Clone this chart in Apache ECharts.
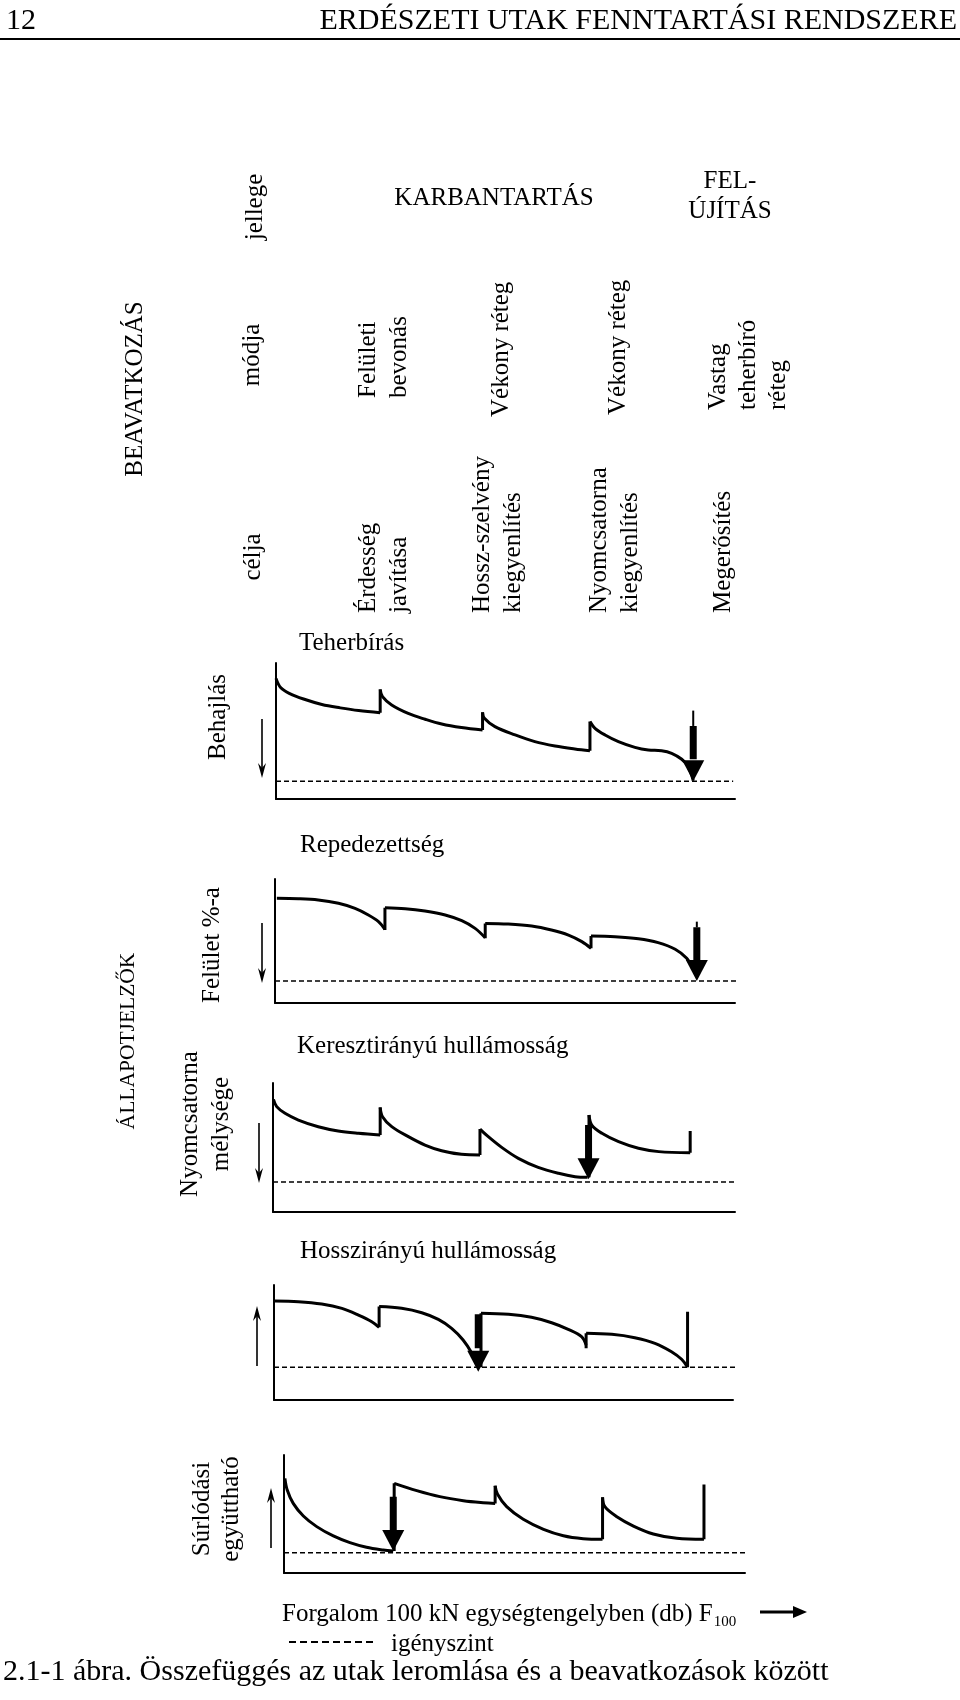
<!DOCTYPE html>
<html><head><meta charset="utf-8">
<script src="https://cdn.jsdelivr.net/npm/echarts@6.0.0/dist/echarts.min.js"></script>
<style>html,body{margin:0;padding:0;background:#fff}#main{width:960px;height:1700px}</style>
</head><body><div id="main"></div>
<script>
// ---------- DATA (x: forgalom 0..100, y: állapot 0..100) ----------
// 1. Teherbírás – Behajlás
const teherbirasSegments = [
  [[0,88.7],[1,82],[3,77.5],[6,73.5],[10,69.5],[14,67],[18,65],[22.7,63.5]],
  [[22.7,80.6],[23.2,75.2],[25.2,69.1],[28.8,62.9],[32.5,58.6],[36.1,55.1],[40.4,52.5],[45.0,50.7]],
  [[45.0,63.7],[45.4,59.3],[47.7,53.2],[52.1,47.1],[56.4,42.2],[60.8,39.0],[65.1,36.8],[68.4,35.5]],
  [[68.4,56.9],[69.5,52.0],[71.7,47.1],[74.6,42.2],[78.2,38.0],[81.1,36.0],[84.0,35.5],[86.2,33.6],[88.4,29.2],[89.8,23.8],[90.9,13.5]]
];
const teherbirasJumps = [[22.7,63.5,80.6],[45.0,50.7,63.7],[68.4,35.5,56.9]];
const teherbirasLevel = 13;
const teherbirasArrow = [90.9, 65, 53.7, 29.2, 13];   // x, tail top, shaft top, head base, tip

// 2. Repedezettség – Felület %-a
const repedezettsegSegments = [
  [[0.4,84.4],[5.1,84.1],[9.4,83.1],[13.8,80.4],[17.4,76.3],[20.3,71.0],[22.5,65.6],[23.9,59.4]],
  [[23.9,76.9],[28.3,76.1],[32.6,74.2],[37.0,71.0],[40.6,66.4],[43.5,60.2],[45.7,52.6]],
  [[45.7,64.2],[50.7,63.7],[55.8,62.1],[60.1,58.9],[63.8,54.8],[66.7,49.5],[68.7,44.1]],
  [[68.7,54.0],[73.9,53.5],[79.0,51.9],[83.3,48.7],[87.0,43.3],[89.5,36.0],[91.0,26.6]]
];
const repedezettsegJumps = [[23.9,58.9,76.9],[45.7,52.2,64.2],[68.7,44.1,54.0]];
const repedezettsegLevel = 17.7;
const repedezettsegArrow = [91.7, 65.6, 61.0, 34.7, 17.7];

// 3. Keresztirányú hullámosság – Nyomcsatorna mélysége
const keresztSegments = [
  [[0.1,87.3],[0.8,81.7],[2.6,76.5],[5.5,71.3],[9.8,66.1],[14.1,62.8],[18.5,61.0],[23.2,59.7]],
  [[23.2,81.1],[23.7,73.9],[25.7,66.2],[29.3,58.4],[32.9,51.9],[36.5,47.5],[40.8,44.7],[44.8,44.2]],
  [[44.8,64.3],[46.6,58.4],[49.5,50.1],[53.1,41.6],[57.4,34.6],[61.8,30.0],[65.4,27.4],[68.1,26.9]],
  [[68.4,75.2],[69.0,67.4],[71.2,61.0],[74.8,54.5],[79.1,49.4],[83.5,46.8],[90.3,46.0]]
];
const keresztJumps = [[23.2,59.7,81.1],[44.8,44.2,64.3],[68.4,26.9,75.2],[90.3,46.0,62.8]];
const keresztLevel = 23.3;
const keresztArrow = [68.3, 67.4, 67.4, 40.8, 25.3];

// 4. Hosszirányú hullámosság
const hosszSegments = [
  [[0.2,86.1],[5.3,85.5],[10.4,83.5],[14.8,79.7],[18.4,73.9],[21.3,68.1],[22.9,63.2]],
  [[22.9,81.2],[27.8,79.7],[32.2,75.9],[35.8,70.1],[38.7,62.3],[41.2,52.2],[43.1,40.6],[44.4,28.4]],
  [[45.1,75.4],[51.1,74.5],[56.1,71.9],[60.5,67.2],[64.1,61.4],[67.0,55.1],[68.0,47.8]],
  [[68.0,58.0],[73.6,57.1],[78.6,54.2],[83.0,49.3],[86.6,42.0],[88.8,35.4],[90.1,28.6]]
];
const hosszJumps = [[22.9,63.2,81.2],[45.1,28.4,75.4],[68.0,44.9,58.0],[90.1,28.4,76.8]];
const hosszLevel = 28.4;
const hosszArrow = [44.5, 74.5, 74.5, 44.9, 24.6];

// 5. Súrlódási együttható
const surlodasSegments = [
  [[0.2,80.2],[0.7,70.3],[2.0,59.0],[4.2,48.3],[7.1,39.3],[10.7,31.4],[14.3,25.7],[17.9,21.8],[21.5,19.5],[23.7,18.6]],
  [[23.9,76.0],[28.8,69.8],[33.8,64.7],[38.9,61.3],[43.2,59.6],[45.8,59.0]],
  [[45.8,74.0],[46.3,66.9],[48.3,56.2],[51.9,45.5],[56.3,37.0],[60.6,31.6],[64.9,29.1],[69.1,28.5]],
  [[69.1,64.1],[69.6,56.2],[72.2,47.7],[75.8,39.8],[80.1,33.1],[85.2,29.4],[91.1,28.5]]
];
const surlodasJumps = [[23.9,18.6,76.0],[45.8,59.0,74.0],[69.1,28.5,64.1],[91.1,28.5,75.1]];
const surlodasLevel = 17.2;
const surlodasArrow = [23.7, 64.7, 64.7, 35.9, 18.6];

const levelEnds = [99.6, 101.5, 100, 100.9, 104.3];

// ---------- LAYOUT ----------
const gridBoxes = [
  [276, 663, 459, 136],
  [275, 879, 460, 124],
  [273, 1083, 462, 129],
  [274, 1285, 459, 115],
  [284, 1455, 461, 118]
];
const FONT = '"Liberation Serif","Times New Roman",serif';

const panels = [
  {seg: teherbirasSegments, jumps: teherbirasJumps, level: teherbirasLevel, arrow: teherbirasArrow},
  {seg: repedezettsegSegments, jumps: repedezettsegJumps, level: repedezettsegLevel, arrow: repedezettsegArrow},
  {seg: keresztSegments, jumps: keresztJumps, level: keresztLevel, arrow: keresztArrow},
  {seg: hosszSegments, jumps: hosszJumps, level: hosszLevel, arrow: hosszArrow},
  {seg: surlodasSegments, jumps: surlodasJumps, level: surlodasLevel, arrow: surlodasArrow}
];

const axisCommon = {
  type: 'value', min: 0, max: 100,
  axisLine: {show: true, onZero: false, lineStyle: {color: '#000', width: 2}},
  axisTick: {show: false}, axisLabel: {show: false}, splitLine: {show: false}
};

const series = [];
panels.forEach((p, i) => {
  const base = {type: 'line', xAxisIndex: i, yAxisIndex: i, symbol: 'none', silent: true, animation: false};
  p.seg.forEach(s => series.push(Object.assign({}, base, {
    data: s, smooth: 0.35, lineStyle: {color: '#000', width: 3, join: 'round'}, z: 2
  })));
  p.jumps.forEach(j => series.push(Object.assign({}, base, {
    data: [[j[0], j[1]], [j[0], j[2]]], lineStyle: {color: '#000', width: 3}, z: 2
  })));
  series.push(Object.assign({}, base, {
    data: [[0, p.level], [levelEnds[i], p.level]], clip: false,
    lineStyle: {color: '#000', width: 1.5, type: [5, 3]}, z: 1
  }));
  const a = p.arrow;
  if (a[1] > a[2]) series.push(Object.assign({}, base, {
    data: [[a[0], a[1]], [a[0], a[2]]], lineStyle: {color: '#000', width: 2}, z: 3
  }));
  series.push(Object.assign({}, base, {
    data: [[a[0], a[2]], [a[0], a[3]]], lineStyle: {color: '#000', width: 7}, z: 3
  }));
  series.push({
    type: 'scatter', xAxisIndex: i, yAxisIndex: i, data: [[a[0], a[4]]],
    symbol: 'path://M0,0L20,0L10,20Z', symbolSize: [22, 21], symbolOffset: [0, '-50%'],
    itemStyle: {color: '#000', opacity: 1}, silent: true, animation: false, z: 4, clip: false
  });
});

// ---------- TEXT & DECORATION ----------
function txt(text, x, y, o) {
  o = o || {};
  const align = o.align || 'left', va = o.va || 'middle';
  return {
    type: 'text', x: x, y: y, rotation: o.rot ? Math.PI / 2 : 0, silent: true,
    style: {
      text: text, font: (o.size || 25) + 'px ' + FONT, fill: '#000',
      align: align, textAlign: align, verticalAlign: va, textVerticalAlign: va,
      lineHeight: o.lh || 31, rich: o.rich
    }
  };
}
function vArrow(x, y1, y2) {
  const d = y2 > y1 ? 1 : -1;
  return [
    {type: 'line', silent: true, shape: {x1: x, y1: y1, x2: x, y2: y2 - 8 * d}, style: {stroke: '#000', lineWidth: 1.6}},
    {type: 'polygon', silent: true, shape: {points: [[x, y2], [x - 4, y2 - 15 * d], [x, y2 - 10 * d], [x + 4, y2 - 15 * d]]}, style: {fill: '#000'}}
  ];
}

const graphics = [
  txt('12', 6, 21, {size: 30}),
  txt('ERDÉSZETI UTAK FENNTARTÁSI RENDSZERE', 957, 21, {size: 30, align: 'right'}),
  {type: 'line', silent: true, shape: {x1: 0, y1: 39, x2: 960, y2: 39}, style: {stroke: '#000', lineWidth: 2}},

  txt('jellege', 255, 207, {rot: 1, align: 'center'}),
  txt('KARBANTARTÁS', 494, 198, {align: 'center'}),
  txt('FEL-\nÚJÍTÁS', 730, 196, {align: 'center', lh: 30}),

  txt('BEAVATKOZÁS', 135, 389, {rot: 1, align: 'center'}),
  txt('módja', 252, 355, {rot: 1, align: 'center'}),
  txt('célja', 253, 557, {rot: 1, align: 'center'}),
  txt('Felületi\nbevonás', 384, 398, {rot: 1}),
  txt('Érdesség\njavítása', 384, 613, {rot: 1}),
  txt('Vékony réteg', 501, 417, {rot: 1}),
  txt('Hossz-szelvény\nkiegyenlítés', 498, 613, {rot: 1}),
  txt('Vékony réteg', 618, 415, {rot: 1}),
  txt('Nyomcsatorna\nkiegyenlítés', 615, 613, {rot: 1}),
  txt('Vastag\nteherbíró\nréteg', 748, 410, {rot: 1, lh: 30}),
  txt('Megerősítés', 723, 613, {rot: 1}),

  txt('Teherbírás', 299, 643),
  txt('Behajlás', 218, 717, {rot: 1, align: 'center'}),
  txt('Repedezettség', 300, 845),
  txt('ÁLLAPOTJELZŐK', 128, 1041, {rot: 1, align: 'center', size: 21.5}),
  txt('Felület %-a', 212, 945, {rot: 1, align: 'center'}),
  txt('Keresztirányú hullámosság', 297, 1046),
  txt('Nyomcsatorna\nmélysége', 206, 1124, {rot: 1, align: 'center'}),
  txt('Hosszirányú hullámosság', 300, 1251),
  txt('Súrlódási\negyüttható', 217, 1509, {rot: 1, align: 'center', lh: 29}),

  txt('{a|Forgalom 100 kN egységtengelyben (db) F}{s|100}', 282, 1614, {
    rich: {a: {font: '25px ' + FONT, fill: '#000'}, s: {font: '15px ' + FONT, fill: '#000', verticalAlign: 'bottom', padding: [0, 0, 0, 1]}}
  }),
  {type: 'line', silent: true, shape: {x1: 760, y1: 1612, x2: 795, y2: 1612}, style: {stroke: '#000', lineWidth: 3}},
  {type: 'polygon', silent: true, shape: {points: [[807, 1612], [793, 1606], [793, 1618]]}, style: {fill: '#000'}},
  {type: 'line', silent: true, shape: {x1: 289, y1: 1642, x2: 375, y2: 1642}, style: {stroke: '#000', lineWidth: 2, lineDash: [7, 4]}},
  txt('igényszint', 391, 1644),
  txt('2.1-1 ábra. Összefüggés az utak leromlása és a beavatkozások között', 3, 1672, {size: 30})
].concat(
  vArrow(262, 719, 778),
  vArrow(262, 923, 983),
  vArrow(259, 1123, 1183),
  vArrow(257, 1366, 1306),
  vArrow(271, 1548, 1488)
);

const chart = echarts.init(document.getElementById('main'), null, {renderer: 'canvas'});
chart.setOption({
  backgroundColor: '#fff',
  animation: false,
  grid: gridBoxes.map(b => ({left: b[0], top: b[1], width: b[2], height: b[3]})),
  xAxis: panels.map((p, i) => Object.assign({}, axisCommon, {gridIndex: i})),
  yAxis: panels.map((p, i) => Object.assign({}, axisCommon, {gridIndex: i})),
  series: series,
  graphic: {elements: graphics}
});
</script></body></html>
